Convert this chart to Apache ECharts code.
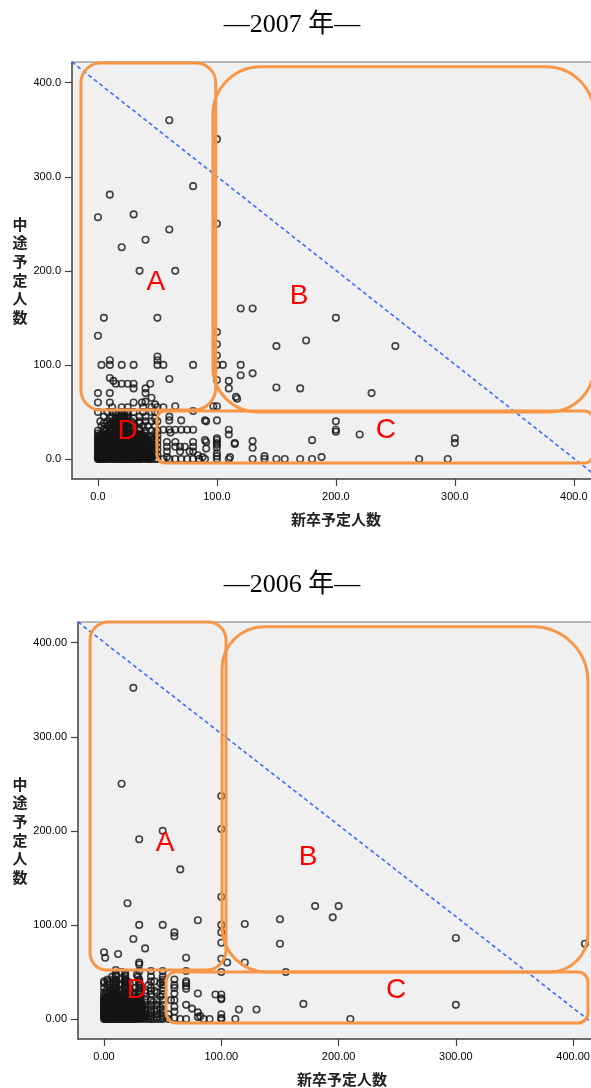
<!DOCTYPE html>
<html><head><meta charset="utf-8">
<script src="https://cdn.jsdelivr.net/npm/echarts@6/dist/echarts.min.js"></script>
<style>html,body{margin:0;padding:0;background:#fff}#c{width:591px;height:1088px}</style>
</head><body><div id="c"></div>
<script>
// ---------- DATA ----------
const titles = ['—2007 年—', '—2006 年—'];
const xName = '新卒予定人数';
const yName = '中途予定人数';
const tickValues = [0, 100, 200, 300, 400];

// 2007: scattered points [新卒, 中途]
const pts07 = [
 [60,360],[80,290],[10,281],[0,257],[30,260],[60,244],[20,225],[40,233],[35,200],[65,200],[100,340],[100,250],
 [5,150],[50,150],[0,131],[100,135],[100,122],[100,110],[100,100],
 [120,160],[130,160],[150,120],[150,76],[170,75],[175,126],[200,150],[250,120],[230,70],
 [3,100],[10,105],[10,100],[20,100],[30,100],[50,109],[50,105],[50,100],[55,100],[80,100],[105,100],[120,100],[120,89],[130,91],
 [60,85],[10,86],[13,83],[15,80],[20,80],[25,80],[30,80],[30,75],[40,75],[40,70],[44,80],[45,65],[0,70],[10,70],[0,60],
 [100,84],[110,83],[110,75],[116,66],[117,64],[97,56],[100,56],[65,56],[80,51],
 [10,60],[12,55],[20,55],[25,55],[30,60],[37,60],[40,61],[45,55],[48,58],[38,55],[50,55],[55,55],
 [90,41],[100,41],[70,41],[60,45],[60,41],[91,40],[55,31],[60,31],[65,31],[70,31],[75,31],[80,31],[61,28],
 [110,31],[110,26],[115,16],[115,17],[130,19],[130,12],[90,20],[100,20],[100,12],[100,15],[100,22],[100,17],[100,6],
 [58,18],[58,13],[58,8],[58,2],[65,18],[65,13],[69,13],[69,8],[73,13],[77,8],[80,18],[80,13],[80,8],[84,4],[88,2],[91,18],[91,11],
 [55,0],[60,0],[65,0],[70,0],[75,0],[80,0],[85,0],[90,0],[100,0],[100,3],[110,0],[111,2],[130,0],[140,3],[140,0],[150,0],[157,0],
 [200,40],[200,31],[200,29],[220,26],[180,20],[300,22],[300,17],[170,0],[180,0],[188,2],[270,0],[294,0]
];
// 2007: dense cluster rows [中途, [新卒...]]
const dense07 = [
 [0,[0,1,2,3,5,6,8,10,12,14,15,17,19,20,22,24,25,27,29,30,32,34,35,37,40,42,44,45,48,50]],
 [1,[0,2,4,5,7,10,12,15,18,20,23,25,28,30,33,35,38,40,43]],
 [2,[0,1,3,5,6,8,10,13,15,16,20,21,25,26,30,31,35,36,40,45]],
 [3,[1,4,7,9,11,14,17,19,22,24,27,29,32,34,37,39,42,44]],
 [4,[0,2,3,5,7,9,10,12,14,15,18,20,22,25,27,30,32,35,38,40,42,45,48]],
 [5,[0,1,4,5,6,8,10,11,15,16,20,24,25,28,30,34,35,40,44,50]],
 [6,[2,3,7,9,12,13,17,18,21,23,26,29,31,33,36,38,41,43]],
 [7,[0,2,3,5,8,10,12,14,15,17,20,22,25,26,30,33,35,37,40,43]],
 [8,[1,4,6,9,11,13,16,19,21,23,27,29,31,36,39,41,45,48]],
 [10,[0,1,2,3,5,6,8,10,12,14,15,17,20,21,24,25,28,30,32,35,38,40,42,45,50]],
 [11,[1,4,7,9,11,13,16,18,22,23,26,29,31,34,36,39,43]],
 [12,[0,2,4,5,7,9,10,12,15,16,18,20,22,25,27,30,33,35,40,44]],
 [13,[1,3,6,8,11,13,14,17,19,23,26,29,31,34,37,41,48]],
 [15,[0,1,2,4,5,7,10,11,12,15,16,18,20,22,25,26,28,30,32,35,36,40,42,45,50]],
 [16,[2,4,6,9,11,14,17,19,21,24,27,29,31,33,37,39,41]],
 [17,[0,3,5,8,10,13,15,17,20,23,25,27,30,34,38,43]],
 [18,[1,2,5,6,9,12,14,16,19,21,24,28,30,33,35,40,48]],
 [20,[0,1,2,3,5,6,8,10,12,13,15,17,18,20,22,24,25,27,30,32,35,38,40,42,45,50]],
 [21,[2,4,7,9,11,14,16,19,23,26,29,31,34,37,41]],
 [22,[0,3,5,7,10,12,15,18,20,21,23,25,28,30,35,40,48]],
 [24,[0,2,4,5,8,10,12,15,16,19,20,22,25,26,30,33,35,38,40,45]],
 [25,[1,3,6,9,11,14,17,18,21,24,28,31,36,42,50]],
 [26,[2,7,12,16,19,23,27,32,37]],
 [27,[0,5,8,10,13,15,18,20,22,25,27,30,34,40,48]],
 [30,[0,5,7,10,12,15,17,18,20,22,25,30,35,40,45,50]],
 [32,[5,10,12,15,18,20,22,25,28,35]],
 [35,[3,8,10,13,15,18,20,22,25,30,38,42,48]],
 [38,[5,10,12,15,18,20,22,24,30,35]],
 [40,[2,8,12,15,18,20,21,23,25,28,35,40,45,50]],
 [43,[10,15,18,20,22,25,30,48]],
 [45,[5,12,18,20,22,25,35,40]],
 [48,[15,18,20,22,25]],
 [50,[0,8,12,20,25,30,38,45,48]]
];

// 2006: scattered points
const pts06 = [
 [25,352],[15,250],[30,191],[50,200],[100,237],[100,202],[65,159],[100,130],[20,123],[80,105],[30,100],[50,100],
 [60,92],[60,88],[100,100],[100,92],[100,81],[120,101],[150,106],[150,80],[25,85],[35,75],[0,71],[1,65],[12,69],
 [30,60],[30,58],[70,65],[100,64],[105,60],[120,60],[155,50],[100,50],[10,52],[15,50],[18,49],[30,51],[40,51],[50,51],[70,51],
 [60,42],[60,36],[60,33],[60,27],[60,20],[60,13],[60,8],[60,1],[57,20],[70,40],[70,38],[70,35],[70,32],[70,15],[70,0],[75,11],
 [80,7],[80,2],[80,27],[95,26],[100,26],[100,22],[100,21],[100,5],[100,1],[100,0],[85,0],[90,0],[82,3],[115,10],[112,0],[130,10],
 [180,120],[200,120],[195,108],[300,86],[410,80],[170,16],[300,15],[210,0],[55,0],[55,5],[65,0]
];
const dense06 = [
 [0,[0,1,2,3,4,5,6,7,8,10,11,12,13,15,16,17,18,20,21,22,24,25,26,28,30,32,35,38,40,42,45,48,50]],
 [1,[1,3,5,7,9,11,14,16,19,21,23,26,29,31,34]],
 [2,[0,2,3,5,6,8,9,10,12,14,15,16,18,20,22,23,25,27,30,33,35,40,45,50]],
 [3,[1,4,6,7,9,11,13,14,17,19,21,24,26,28,31]],
 [4,[0,1,2,4,5,7,8,10,11,13,15,17,19,20,21,24,25,26,28,30,35,40,50]],
 [5,[0,2,3,5,6,8,10,12,14,15,18,20,22,25,28,30,32,36,45]],
 [6,[1,4,7,9,11,13,16,17,19,21,23,26,29,31,34]],
 [7,[0,1,3,4,6,8,9,10,12,13,15,16,19,20,23,25,27,30,33,40,50]],
 [8,[0,2,5,7,10,11,14,17,18,21,22,24,26,29,35,43]],
 [9,[1,3,4,6,8,9,12,13,15,16,19,20,23,25,27,31]],
 [10,[0,1,2,3,5,6,8,10,12,13,15,16,18,20,22,25,26,28,30,32,35,40,45,50]],
 [11,[1,3,6,8,9,11,14,16,17,19,22,23,26,28,31]],
 [12,[0,2,4,5,7,9,10,12,14,15,17,20,21,24,25,27,30,37,48]],
 [13,[1,3,6,8,11,13,16,18,19,23,26,28,30,33]],
 [14,[0,2,4,7,9,10,12,14,17,20,21,24,25,29,32]],
 [15,[0,1,2,4,5,7,8,10,11,12,15,17,18,20,22,25,27,30,35,40,45,50]],
 [16,[1,3,4,7,8,11,12,14,17,18,21,23,24,27,31]],
 [17,[0,3,5,6,9,10,13,15,16,19,20,23,25,29,32]],
 [18,[1,2,4,7,8,11,12,14,17,18,21,22,26,30,42]],
 [19,[0,3,5,6,9,10,13,15,16,19,20,23,27,31]],
 [20,[0,1,2,3,5,6,8,10,12,13,15,17,18,20,21,24,25,28,30,35,40,45,50]],
 [21,[1,4,6,8,11,13,14,16,19,22,23,26,29]],
 [22,[0,2,4,5,7,9,10,12,15,16,19,20,23,25,30]],
 [24,[0,3,5,6,8,10,11,13,15,18,20,22,25,30,36,48]],
 [26,[1,5,8,10,15,18,20,26,30,40,50]],
 [28,[0,3,8,10,12,18,20,25,30,35,45]],
 [30,[2,5,8,10,15,18,22,30,40,43,50]],
 [33,[0,5,8,10,18,20,27,30,40,50]],
 [36,[3,8,10,15,18,30,38,50]],
 [38,[0,5,10,13,18,22,30,48]],
 [40,[0,3,10,18,20,30,40,43,50]],
 [42,[3,8,10,15,18,30,50]],
 [45,[7,10,18,29,40,50]],
 [47,[10,18,28]]
];

// annotation boxes [x0, y0, x1, y1] in data units, letters at [x, y]
const boxes07 = [[-14.3,52,99,421],[96.6,50,417,417],[49.6,-4.3,416,51]];
const boxes06 = [[-11.9,52,104,422],[100.6,50,412.6,417],[52.9,-4.3,412.6,50]];
const letters = ['A','B','C','D'];
const letterPos07 = [[48.7,188],[169,173],[242,31],[25,29]];
const letterPos06 = [[52,187],[174,172],[249,31],[28,30]];
// reference diagonal endpoints
const diag07 = [[-21.8,422],[422,-21.3]];
const diag06 = [[-22.2,422],[428,-15.6]];
// axis extents
const xRange07 = [-21.8, 422], xRange06 = [-22.2, 428], yRange = [-21.3, 422];

// ---------- STYLE ----------
const boxR07 = [[20,20,22,20],[48,48,45,45],[8,8,8,8]];
const boxR06 = [[18,18,20,17],[42,55,38,45],[10,10,10,10]];
const ORANGE = '#f79646';

function expand(rows){ const out=[]; rows.forEach(r=>r[1].forEach(x=>out.push([x,r[0]]))); return out; }

const chart = echarts.init(document.getElementById('c'), null, {renderer:'canvas'});

function axes(i, xr, dec, yGap){
  const lab = {customValues: tickValues, formatter: v => v.toFixed(dec), color:'#000', fontSize:11,
               fontFamily:'"Liberation Sans", Arial, sans-serif'};
  const tick = {show:true, customValues: tickValues, length:7, lineStyle:{color:'#444', width:1.2}};
  const line = {show:true, onZero:false, lineStyle:{color:'#555', width:1.5}};
  const nameStyle = {fontFamily:'"Noto Sans CJK JP", sans-serif', fontSize:15, fontWeight:'bold', color:'#222'};
  return {
    x: {gridIndex:i, type:'value', min:xr[0], max:xr[1], axisLine:line, axisTick:tick,
        axisLabel:Object.assign({margin:12}, lab), splitLine:{show:false},
        name:xName, nameLocation:'middle', nameGap:33, nameTextStyle:nameStyle},
    y: {gridIndex:i, type:'value', min:yRange[0], max:yRange[1], axisLine:line, axisTick:tick,
        axisLabel:Object.assign({margin:11}, lab), splitLine:{show:false},
        name:yName.split('').join('\n'), nameLocation:'middle', nameRotate:0, nameGap:yGap,
        nameTextStyle:Object.assign({lineHeight:18.6, padding:[8,0,0,0]}, nameStyle)}
  };
}
const a0 = axes(0, xRange07, 1, 42.5), a1 = axes(1, xRange06, 2, 48.8);

function seriesFor(i, pts, dense, diag, boxes, radii, lpos){
  return [
    {type:'scatter', xAxisIndex:i, yAxisIndex:i, data: pts.concat(expand(dense)), symbol:'circle', symbolSize:6.5,
     large:false, itemStyle:{color:'rgba(0,0,0,0)', borderColor:'#151515', borderWidth:1.6}, z:2, silent:true},
    {type:'line', xAxisIndex:i, yAxisIndex:i, data: diag, symbol:'none', z:3,
     lineStyle:{color:'#3a6cf5', width:1.6, type:[4,3]}},
    {type:'custom', xAxisIndex:i, yAxisIndex:i, data: boxes, z:4,
     renderItem:(p, api) => {
       const tl = api.coord([api.value(0), api.value(3)]);
       const br = api.coord([api.value(2), api.value(1)]);
       return {type:'rect', shape:{x:tl[0], y:tl[1], width:br[0]-tl[0], height:br[1]-tl[1], r:radii[p.dataIndex]},
               style:{fill:null, stroke:ORANGE, lineWidth:3}};
     }},
    {type:'custom', xAxisIndex:i, yAxisIndex:i, data: lpos, z:5,
     renderItem:(p, api) => {
       const c = api.coord([api.value(0), api.value(1)]);
       return {type:'text', x:c[0], y:c[1], style:{text:letters[p.dataIndex], fill:'#ff0000',
               font:'28px "Liberation Sans", Arial, sans-serif', align:'center', verticalAlign:'middle'}};
     }}
  ];
}

chart.setOption({
  animation:false,
  backgroundColor:'#fff',
  graphic:[
    {type:'text', x:292, y:25, style:{text:titles[0], font:'26px "Liberation Serif", "Noto Sans CJK JP", serif', fill:'#000', align:'center', verticalAlign:'middle'}},
    {type:'text', x:292, y:585, style:{text:titles[1], font:'26px "Liberation Serif", "Noto Sans CJK JP", serif', fill:'#000', align:'center', verticalAlign:'middle'}}
  ],
  grid:[
    {left:72, top:62, width:528, height:417, outerBoundsMode:'none', containLabel:false, show:true, backgroundColor:'#f0f0f0', borderColor:'#777', borderWidth:1},
    {left:78, top:622, width:528, height:417, outerBoundsMode:'none', containLabel:false, show:true, backgroundColor:'#f0f0f0', borderColor:'#777', borderWidth:1}
  ],
  xAxis:[a0.x, a1.x],
  yAxis:[a0.y, a1.y],
  series: seriesFor(0, pts07, dense07, diag07, boxes07, boxR07, letterPos07)
          .concat(seriesFor(1, pts06, dense06, diag06, boxes06, boxR06, letterPos06))
});
</script></body></html>
